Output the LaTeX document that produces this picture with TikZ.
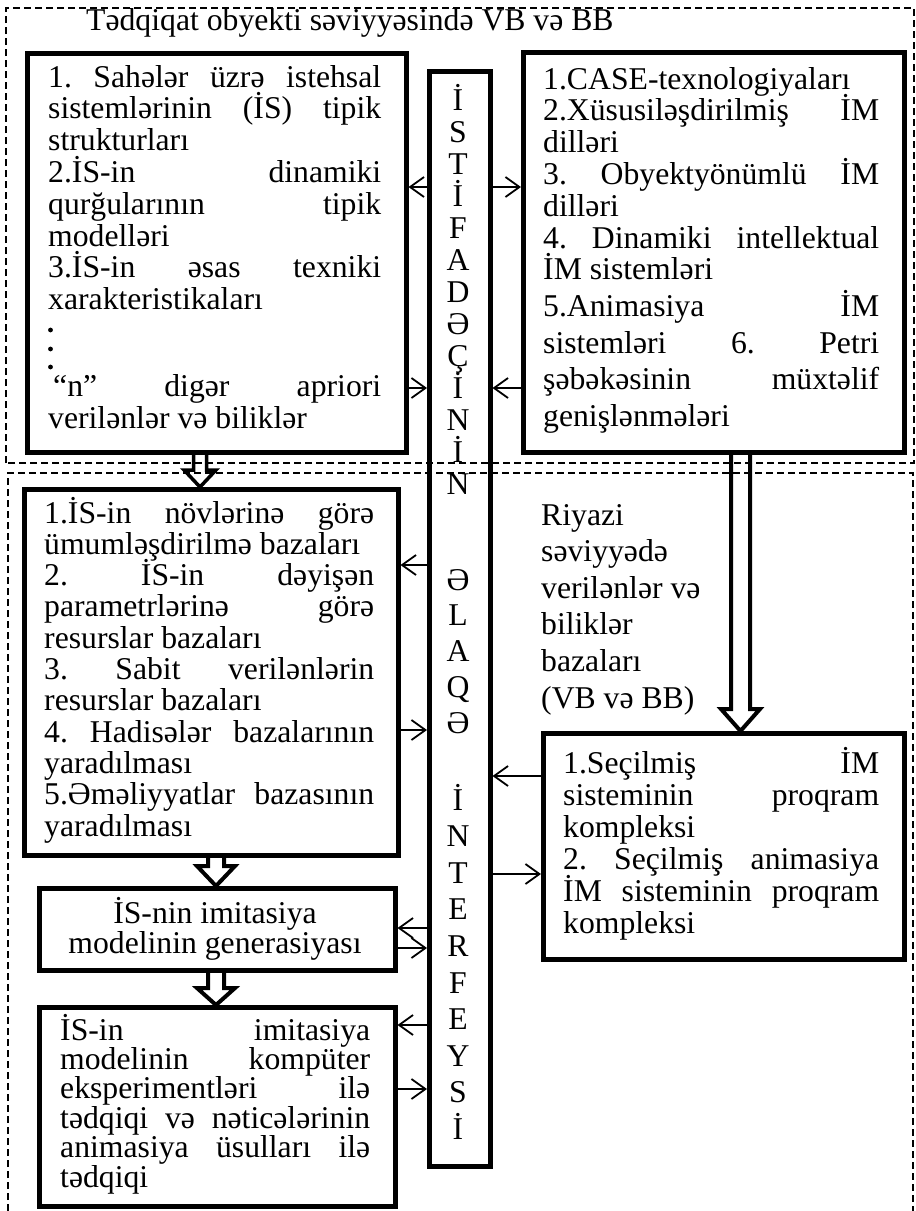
\documentclass[tikz,border=0pt]{standalone}
\usepackage{fontspec}
\setmainfont{Liberation Serif}
\usetikzlibrary{arrows.meta,calc}
\newcommand\fs{\fontsize{31.7pt}{31.8pt}\selectfont}
\newcommand\jln[1]{\hbox to\hsize{#1}}
\newcommand\lln[1]{\hbox to\hsize{#1\hfill}}
\newcommand\cln[1]{\hbox to\hsize{\hfill#1\hfill}}
% hollow block arrow: style, start, end, shaft half, head half, head length
\newcommand\harrow[6]{%
  \draw[#1] let \p1=#2, \p2=#3 in
    (\x1-#4,\y1) -- (\x1-#4,\y2+#6) -- (\x1-#5,\y2+#6) -- (\x1,\y2)
    -- (\x1+#5,\y2+#6) -- (\x1+#4,\y2+#6) -- (\x1+#4,\y1);}
\tikzset{
  box/.style={draw, line width=4.5pt, inner sep=0pt, anchor=north west},
  txt/.style={inner sep=0pt, anchor=base west, font=\fs},
  conn/.style={line width=1.8pt, -{Straight Barb[length=14pt,width=20pt]}},
  frame/.style={line width=1.2pt, dash pattern=on 7pt off 4pt},
  hollow/.style={line width=4pt, line join=miter},
  hollowthin/.style={line width=3.5pt, line join=miter},
  dot/.style={fill=black},
}
\begin{document}
\begin{tikzpicture}[x=1pt,y=-1pt]
\fill[white] (0,0) rectangle (916,1211);
\useasboundingbox (0,0) rectangle (916,1211);

% dashed frames
\draw[frame] (6,463) rectangle (914,8);
\draw[frame] (8,1211) -- (8,473) -- (913,473) -- (913,1211);

% title
\node[txt] (title) at (86,30) {Tədqiqat obyekti səviyyəsində VB və BB};

% boxes
\node[box, minimum width=379pt, minimum height=399pt] (A) at (25,51) {};
\node[box, minimum width=381pt, minimum height=400pt] (B) at (521,50) {};
\node[box, minimum width=61pt, minimum height=1095pt] (I) at (427,69) {};
\node[box, minimum width=374pt, minimum height=366pt] (C) at (22,487) {};
\node[box, minimum width=356pt, minimum height=82pt] (D) at (37,886) {};
\node[box, minimum width=356pt, minimum height=199pt] (E) at (37,1005) {};
\node[box, minimum width=361pt, minimum height=226pt] (F) at (541,731) {};

% texts
\node[txt] (tA) at (48,87) {\vtop{\hsize=333pt\baselineskip=31.8pt\lineskiplimit=-1000pt
\jln{1.\hfill Sahələr\hfill üzrə\hfill istehsal}
\jln{sistemlərinin\hfill (İS)\hfill tipik}
\lln{strukturları}
\jln{2.İS-in\hfill dinamiki}
\jln{qurğularının\hfill tipik}
\lln{modelləri}
\jln{3.İS-in\hfill əsas\hfill texniki}
\lln{xarakteristikaları}
\vskip55.2pt\relax\jln{\hspace{5pt}“n”\hfill digər\hfill apriori}
\lln{verilənlər və biliklər}}};
% vertical ellipsis dots
\fill[dot] (50.5,330) circle (2.4pt);
\fill[dot] (50.5,349) circle (2.4pt);
\fill[dot] (50.5,367) circle (2.4pt);

\node[txt] (tB) at (543,89) {\vtop{\hsize=336pt\baselineskip=31.8pt\lineskiplimit=-1000pt
\lln{1.CASE-texnologiyaları}
\jln{2.Xüsusiləşdirilmiş\hfill İM}
\lln{dilləri}
\jln{3.\hfill Obyektyönümlü\hfill İM}
\lln{dilləri}
\jln{4.\hfill Dinamiki\hfill intellektual}
\lln{İM sistemləri}
\vskip5pt\relax\jln{5.Animasiya\hfill İM}
\vskip4.8pt\relax\jln{sistemləri\hfill 6.\hfill Petri}
\vskip4.8pt\relax\jln{şəbəkəsinin\hfill müxtəlif}
\vskip4.8pt\relax\lln{genişlənmələri}}};

\node[txt] (tC) at (44,523) {\vtop{\hsize=330pt\baselineskip=31.3pt\lineskiplimit=-1000pt
\jln{1.İS-in\hfill növlərinə\hfill görə}
\lln{ümumləşdirilmə bazaları}
\jln{2.\hfill İS-in\hfill dəyişən}
\jln{parametrlərinə\hfill görə}
\lln{resurslar bazaları}
\jln{3.\hfill Sabit\hfill verilənlərin}
\lln{resurslar bazaları}
\jln{4.\hfill Hadisələr\hfill bazalarının}
\lln{yaradılması}
\jln{5.Əməliyyatlar\hfill bazasının}
\lln{yaradılması}}};

\node[txt, anchor=base] (tD) at (215,923) {\vtop{\hsize=340pt\baselineskip=30pt\lineskiplimit=-1000pt
\cln{İS-nin imitasiya}
\cln{modelinin generasiyası}}};

\node[txt] (tE) at (60,1040) {\vtop{\hsize=310pt\baselineskip=29.4pt\lineskiplimit=-1000pt
\jln{İS-in\hfill imitasiya}
\jln{modelinin\hfill kompüter}
\jln{eksperimentləri\hfill ilə}
\jln{tədqiqi\hfill və\hfill nəticələrinin}
\jln{animasiya\hfill üsulları\hfill ilə}
\lln{tədqiqi}}};

\node[txt] (tF) at (563,773) {\vtop{\hsize=316pt\baselineskip=32pt\lineskiplimit=-1000pt
\jln{1.Seçilmiş\hfill İM}
\jln{sisteminin\hfill proqram}
\lln{kompleksi}
\jln{2.\hfill Seçilmiş\hfill animasiya}
\jln{İM\hfill sisteminin\hfill proqram}
\lln{kompleksi}}};

\node[txt] (tR) at (541,525) {\vtop{\hsize=200pt\baselineskip=36.6pt\lineskiplimit=-1000pt
\lln{Riyazi}
\lln{səviyyədə}
\lln{verilənlər və}
\lln{biliklər}
\lln{bazaları}
\lln{(VB və BB)}}};

\node[txt, anchor=base] (tI) at (458,110) {\vtop{\hsize=40pt\baselineskip=32pt\lineskiplimit=-1000pt
\cln{İ}\cln{S}\cln{T}\cln{İ}\cln{F}\cln{A}\cln{D}\cln{Ə}\cln{Ç}\cln{İ}\cln{N}\cln{İ}\cln{N}
\baselineskip=35.8pt\vskip60.2pt\relax
\cln{Ə}\cln{L}\cln{A}\cln{Q}\cln{Ə}
\baselineskip=36.6pt\vskip40.2pt\relax
\cln{İ}\cln{N}\cln{T}\cln{E}\cln{R}\cln{F}\cln{E}\cln{Y}\cln{S}\cln{İ}}};

% helper coordinates
\coordinate (ax1) at (200,0);
\coordinate (ax2) at (216,0);
\coordinate (ax3) at (740.5,0);
\foreach \yy in {187,388,565,730,776,874,928,948,1025,1089}
  \coordinate (y\yy) at (0,\yy);

% hollow block arrows
\harrow{hollowthin}{(A.south -| ax1)}{(C.north -| ax1)}{6.5pt}{16pt}{17pt}
\harrow{hollow}{(C.south -| ax2)}{(D.north -| ax2)}{8pt}{19pt}{20pt}
\harrow{hollow}{(D.south -| ax2)}{(E.north -| ax2)}{8pt}{19pt}{17pt}
\harrow{hollow}{(B.south -| ax3)}{(F.north -| ax3)}{9.5pt}{19.5pt}{22pt}

% interface connectors
\draw[conn] (I.west |- y187) -- (A.east |- y187);
\draw[conn] (I.east |- y187) -- (B.west |- y187);
\draw[conn] (A.east |- y388) -- (I.west |- y388);
\draw[conn] (B.west |- y388) -- (I.east |- y388);
\draw[conn] (I.west |- y565) -- (C.east |- y565);
\draw[conn] (C.east |- y730) -- (I.west |- y730);
\draw[conn] (F.west |- y776) -- (I.east |- y776);
\draw[conn] (I.east |- y874) -- (F.west |- y874);
\draw[conn] (I.west |- y928) -- (D.east |- y928);
\draw[conn] (D.east |- y948) -- (I.west |- y948);
\draw[conn] (I.west |- y1025) -- (E.east |- y1025);
\draw[conn] (E.east |- y1089) -- (I.west |- y1089);
\end{tikzpicture}
\end{document}
